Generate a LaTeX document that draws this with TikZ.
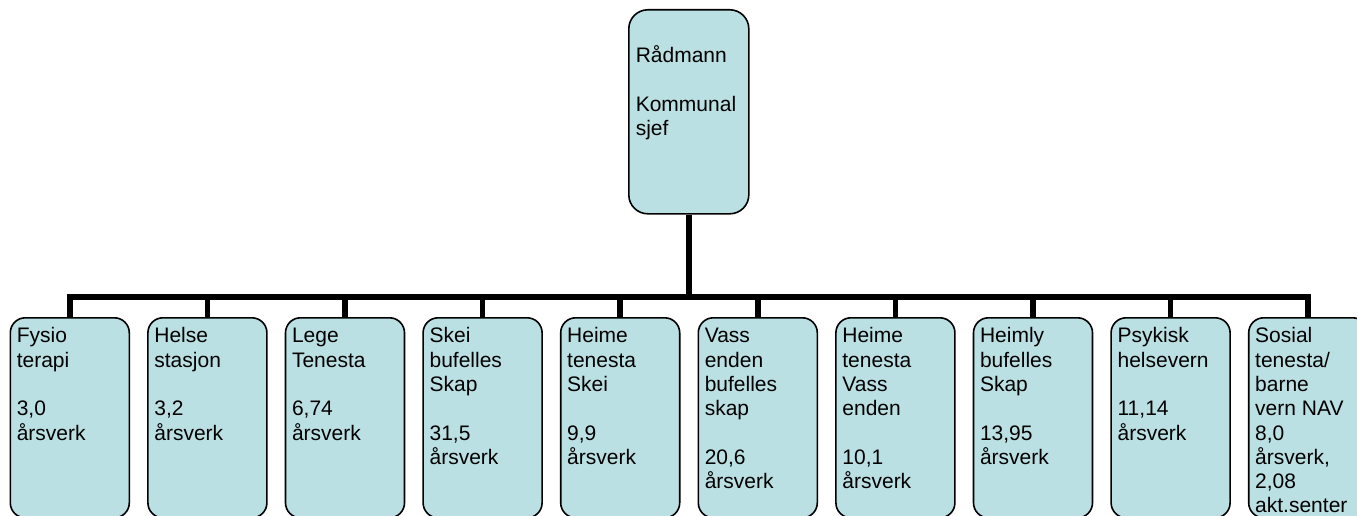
\documentclass[tikz,border=0pt]{standalone}
\usepackage{fontspec}
\setmainfont{Liberation Sans}
\definecolor{unitfill}{RGB}{187,224,227}
% box text: top offset, lines
\newcommand{\unittext}[2]{\parbox[t][184pt][t]{106pt}{\rule{0pt}{#1}#2}}

\begin{document}
\begin{tikzpicture}[x=1pt,y=1pt,yscale=-1,
  unit/.style={draw=black,line width=1.6pt,fill=unitfill,rounded corners=15pt,inner xsep=6.5pt,inner ysep=8pt,anchor=north west,font=\fontsize{21pt}{24.3pt}\selectfont},
  link/.style={line width=5.5pt}]
\useasboundingbox (0,0) rectangle (1357,516);

%Shape: Top box
\node [unit,rounded corners=19pt,inner xsep=7pt] (chief) at (628,9) {\parbox[t][188pt][t]{106pt}{\rule{0pt}{45pt}Rådmann\\[24.3pt]Kommunal\\sjef}};

%Shape: Unit boxes
\node [unit] (fysio)   at (9.5,317)   {\unittext{17pt}{Fysio\\terapi\\[24.3pt]3,0\\årsverk}};
\node [unit] (helse)   at (147.1,317) {\unittext{17pt}{Helse\\stasjon\\[24.3pt]3,2\\årsverk}};
\node [unit] (lege)    at (284.7,317) {\unittext{17pt}{Lege\\Tenesta\\[24.3pt]6,74\\årsverk}};
\node [unit] (skei)    at (422.3,317) {\unittext{17pt}{Skei\\bufelles\\Skap\\[24.3pt]31,5\\årsverk}};
\node [unit] (heimes)  at (559.9,317) {\unittext{17pt}{Heime\\tenesta\\Skei\\[24.3pt]9,9\\årsverk}};
\node [unit] (vass)    at (697.5,317) {\unittext{17pt}{Vass\\enden\\bufelles\\skap\\[24.3pt]20,6\\årsverk}};
\node [unit] (heimev)  at (835.1,317) {\unittext{17pt}{Heime\\tenesta\\Vass\\enden\\[24.3pt]10,1\\årsverk}};
\node [unit] (heimly)  at (972.7,317) {\unittext{17pt}{Heimly\\bufelles\\Skap\\[24.3pt]13,95\\årsverk}};
\node [unit] (psyk)    at (1110.3,317) {\unittext{17pt}{Psykisk\\helsevern\\[24.3pt]11,14\\årsverk}};
\node [unit] (sosial)  at (1247.9,317) {\unittext{17pt}{Sosial\\tenesta/\\barne\\vern NAV\\8,0\\årsverk,\\2,08\\akt.senter}};

%Straight Lines: connectors
\coordinate (bar) at (688,297);
\draw [link] (chief.south) -- (chief.south |- bar);
\draw [link] (fysio.north) |- (sosial.north |- bar) -- (sosial.north);
\foreach \u in {helse,lege,skei,heimes,vass,heimev,heimly,psyk}
  \draw [link] (\u.north) -- (\u.north |- bar);

\end{tikzpicture}
\end{document}
